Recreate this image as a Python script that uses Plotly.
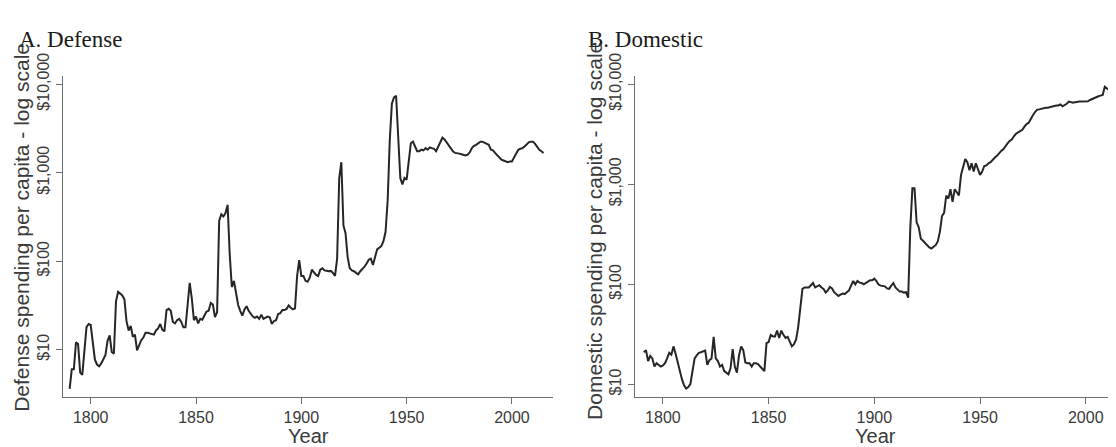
import plotly.graph_objects as go

# ---- Data ----
def_years = list(range(1790, 2016))
defense = [
    3.6, 6.0, 6.0, 12.1, 11.6, 5.5, 5.2, 9.4, 18, 19.5,            # 1790-1799
    19, 12, 7.7, 6.8, 6.5, 7.0, 8, 8.7, 12.6, 14.5,                # 1800-1809
    9.4, 9.0, 35, 45, 43, 41, 37, 21, 16.5, 18.5,                  # 1810-1819
    14, 14.8, 9.8, 11, 12.8, 13.7, 15.5, 15.5, 15.2, 15.2,         # 1820-1829
    14.8, 16.5, 17.4, 19.5, 16.8, 16.1, 28, 29, 27.5, 20.6,        # 1830-1839
    19.8, 21.5, 22.3, 20.6, 17.9, 17.9, 35, 57, 38, 21.5,          # 1840-1849
    23.7, 19.8, 22.3, 21.8, 24.3, 27, 27.5, 33.8, 32.4, 23.3,      # 1850-1859
    26.4, 287, 338, 320, 350, 432, 120, 51, 60, 41,                # 1860-1869
    32, 27.5, 24.3, 28.5, 31, 27.5, 25.3, 23.7, 22.9, 23.7,        # 1870-1879
    22.3, 24.9, 22.3, 22.9, 23.7, 23.3, 19.5, 21.1, 21.5, 25.3,    # 1880-1889
    25.8, 28, 28, 28.9, 31.6, 29.8, 28.5, 29.3, 68, 103,           # 1890-1899
    68, 68, 60, 58.6, 65, 80, 73.8, 70, 68, 80,                    # 1900-1909
    83, 78.6, 78, 77, 77.6, 73.8, 68, 107, 869, 1312,              # 1910-1919
    253, 206, 111, 83, 78.6, 77, 73.8, 71, 77, 81,                 # 1920-1929
    86.6, 94, 104, 107, 90.5, 111, 136, 142, 148, 168,             # 1930-1939
    215, 489, 2333, 6010, 7080, 7380, 2150, 870, 738, 870,         # 1940-1949
    834, 1312, 2150, 2240, 1975, 1743, 1743, 1815, 1785, 1890,     # 1950-1959
    1815, 1925, 1890, 1860, 1743, 1975, 2290, 2480, 2365, 2185,    # 1960-1969
    2063, 1925, 1743, 1670, 1640, 1640, 1615, 1600, 1565, 1600,    # 1970-1979
    1700, 1890, 2005, 2063, 2150, 2240, 2240, 2185, 2150, 2063,    # 1980-1989
    1815, 1785, 1670, 1565, 1480, 1400, 1370, 1340, 1312, 1340,    # 1990-1999
    1340, 1480, 1670, 1815, 1860, 1890, 1975, 2063, 2200, 2240,    # 2000-2009
    2240, 2110, 1950, 1815, 1743, 1670,                            # 2010-2015
]

dom_years = list(range(1791, 2016))
domestic = [
    21, 22, 17.1, 19.3, 18.2, 15.1, 16.3, 15.7, 15.1,              # 1791-1799
    15.5, 16.3, 18.2, 20.7, 19.8, 24, 20.2, 16.3, 13.1, 11.3,      # 1800-1809
    9.8, 9.1, 9.4, 10.1, 13.6, 18.2, 19.5, 20.7, 21, 21.3,         # 1810-1819
    21.8, 15.7, 17.5, 18.2, 29.8, 18.2, 17.1, 15.1, 15.7, 13.6,    # 1820-1829
    13.1, 12.6, 14.6, 22.6, 15.1, 13.1, 19.5, 24, 22, 16.6,        # 1830-1839
    16.3, 16.3, 15.1, 16.3, 16.3, 16, 15.1, 14.3, 13.6, 25.8,      # 1840-1849
    26.5, 31.3, 30.2, 30.2, 34.5, 29.1, 34.5, 31.3, 29.1, 29.8,    # 1850-1859
    26.2, 24, 25.2, 28.1, 37.6, 58, 90, 93, 93, 93,                # 1860-1869
    98, 103, 93, 95.5, 98, 93, 90, 82.7, 87, 94,                   # 1870-1879
    91, 83.5, 79.5, 76.6, 79, 81, 80, 82.7, 87, 97,                # 1880-1889
    108, 100, 108, 104, 103, 100, 103, 106, 110, 110,              # 1890-1899
    114, 108, 99.6, 97, 95.5, 95.5, 91, 90, 97, 103,               # 1900-1909
    93, 89, 84.6, 84.6, 82.7, 83.5, 73.5, 360, 912, 912,           # 1910-1919
    416, 371, 285, 272, 259, 241, 234, 228, 236, 246,              # 1920-1929
    268, 334, 481, 518, 771, 718, 892, 667, 892, 830,              # 1930-1939
    771, 1239, 1543, 1783, 1657, 1380, 1620, 1340, 1620, 1440,     # 1940-1949
    1240, 1340, 1520, 1543, 1620, 1657, 1760, 1850, 1920, 2040,    # 1950-1959
    2150, 2235, 2410, 2560, 2700, 2800, 3010, 3190, 3290, 3360,    # 1960-1969
    3490, 3760, 3990, 4110, 4530, 4880, 5260, 5550, 5590, 5680,    # 1970-1979
    5680, 5800, 5800, 5890, 5990, 6030, 6120, 6120, 6250, 5990,    # 1980-1989
    6120, 6360, 6690, 6600, 6500, 6600, 6690, 6690, 6690, 6690,    # 1990-1999
    6690, 6740, 6940, 7120, 7230, 7390, 7560, 7670, 7790, 9400,    # 2000-2009
    9000, 8600, 8400, 8200, 8100, 8250,                            # 2010-2015
]

x_ticks = [1800, 1850, 1900, 1950, 2000]
y_ticks = [10, 100, 1000, 10000]
y_ticktext = ["$10", "$100", "$1,000", "$10,000"]
panel_titles = ["A. Defense", "B. Domestic"]
y_titles = ["Defense spending per capita - log scale",
            "Domestic spending per capita - log scale"]
x_title = "Year"

# The page body has an 8px default margin; the figure is sized so it ends at the
# window edge, and screen positions are converted to figure positions below.
OFF = 8
SW, SH = 1116, 447
W, H = SW - OFF, SH - OFF
LINE = "#262626"
AX = "#6e6e6e"
TXT = "#3a3a3a"
FONT = "Liberation Sans, Arial, sans-serif"
SERIF = "Liberation Serif, Times New Roman, serif"

fig = go.Figure()
fig.add_trace(go.Scatter(x=def_years, y=defense, mode="lines",
                         line=dict(color=LINE, width=2), xaxis="x", yaxis="y",
                         showlegend=False, hoverinfo="skip"))
fig.add_trace(go.Scatter(x=dom_years, y=domestic, mode="lines",
                         line=dict(color=LINE, width=2), xaxis="x2", yaxis="y2",
                         showlegend=False, hoverinfo="skip"))

def xa(domain, rng, anchor):
    return dict(domain=domain, range=rng, anchor=anchor, tickvals=x_ticks,
                showgrid=False, zeroline=False, showline=True, linecolor=AX,
                linewidth=1.3, ticks="outside", ticklen=6, tickcolor=AX,
                tickwidth=1.3, tickfont=dict(family=FONT, size=16, color=TXT))

def ya(domain, rng, anchor):
    return dict(domain=domain, type="log", range=rng, anchor=anchor,
                tickvals=y_ticks, ticktext=y_ticktext, tickangle=-90,
                showgrid=False, zeroline=False, showline=True, linecolor=AX,
                linewidth=1.3, ticks="outside", ticklen=6, tickcolor=AX,
                tickwidth=1.3, tickfont=dict(family=FONT, size=16, color=TXT))

def px_x(p):  # screen px -> paper fraction
    return (p - OFF) / W

def px_y(p):
    return 1 - (p - OFF) / H

ydom = [px_y(394.3), px_y(56)]
ann = []
for txt, xl in zip(panel_titles, [17, 586]):
    ann.append(dict(text=txt, x=px_x(xl), y=px_y(17), xref="paper", yref="paper",
                    xanchor="left", yanchor="middle", showarrow=False,
                    font=dict(family=SERIF, size=23, color="#1a1a1a")))
for txt, xc, yc in zip(y_titles, [20.7, 595], [215, 219]):
    ann.append(dict(text=txt, x=px_x(xc), y=px_y(yc), xref="paper", yref="paper",
                    xanchor="center", yanchor="middle", textangle=-90, showarrow=False,
                    font=dict(family=FONT, size=21, color=TXT)))
for xc in [308, 875.5]:
    ann.append(dict(text=x_title, x=px_x(xc), y=px_y(435), xref="paper", yref="paper",
                    xanchor="center", yanchor="middle", showarrow=False,
                    font=dict(family=FONT, size=20, color=TXT)))

fig.update_layout(
    width=W, height=H,
    margin=dict(l=0, r=0, t=0, b=0),
    paper_bgcolor="white", plot_bgcolor="white",
    xaxis=xa([px_x(62.7), px_x(553)], [1786.7, 2019.5], "y"),
    yaxis=ya(ydom, [0.465, 4.086], "x"),
    xaxis2=xa([px_x(635), 1.0], [1786.8, 2014.3], "y2"),
    yaxis2=ya(ydom, [0.874, 4.076], "x2"),
    annotations=ann,
)

fig.write_html("out.html")
